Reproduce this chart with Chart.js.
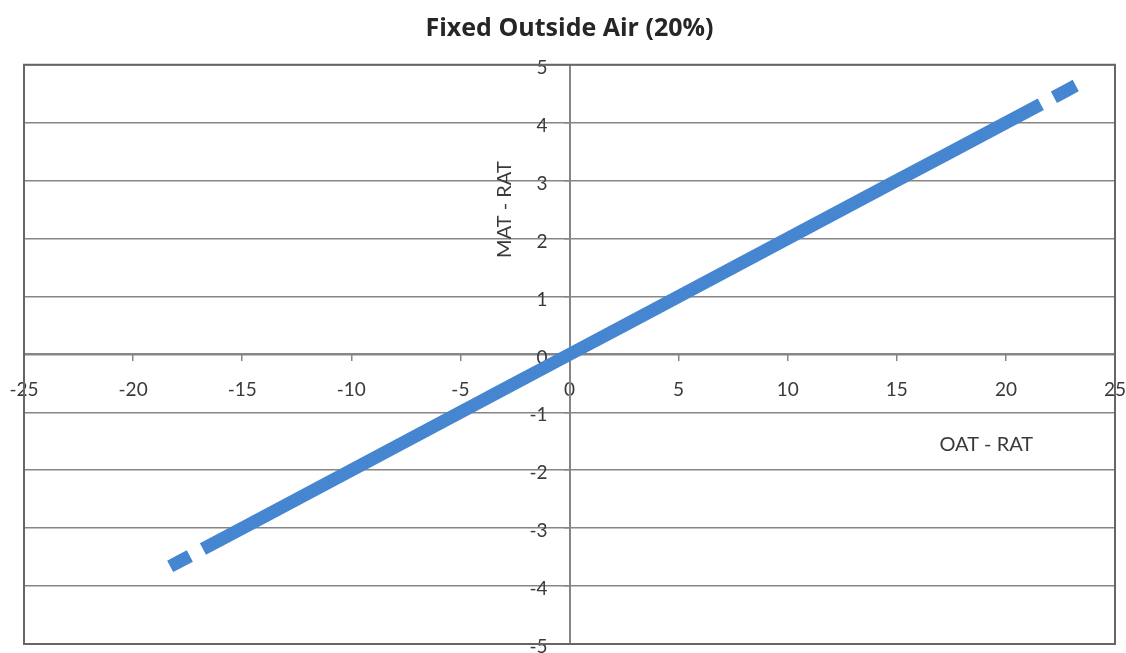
<!DOCTYPE html>
<html lang="en">
<head>
    <meta charset="UTF-8">
    <title>Fixed Outside Air (20%)</title>
    <script src="https://cdn.jsdelivr.net/npm/chart.js"></script>
    <style>
        * {
            margin: 0;
            padding: 0;
            box-sizing: border-box;
        }

        body {
            background: #ffffff;
            width: 1126px;
            height: 653px;
            overflow: hidden;
        }

        .chart-box {
            position: relative;
            width: 1126px;
            height: 653px;
        }
    </style>
</head>
<body>
    <div class="chart-box">
        <canvas id="oaChart" width="1126" height="653"></canvas>
    </div>
    <script>
        // Values (null = gap in the trace)
        const oatRat = [-18.3, -17.9, -17.4, -17.1, -16.8, -15, -12.5, -10, -7.5, -5, -2.5, 0, 2.5, 5, 7.5, 10, 12.5, 15, 17.5, 20, 21.6, 21.9, 22.2, 22.7, 23.2];
        const matRat = [-3.66, -3.58, -3.48, null, -3.36, -3.0, -2.5, -2.0, -1.5, -1.0, -0.5, 0, 0.5, 1.0, 1.5, 2.0, 2.5, 3.0, 3.5, 4.0, 4.32, null, 4.44, 4.54, 4.64];
        const xTicks = [-25, -20, -15, -10, -5, 0, 5, 10, 15, 20, 25];
        const yTicks = [-5, -4, -3, -2, -1, 0, 1, 2, 3, 4, 5];

        const gridColor = '#868686';
        const textColor = '#3a3a3a';
        const fontFamily = 'Lato, "Open Sans", sans-serif';

        const points = oatRat.map((x, i) => ({ x: x, y: matRat[i] }));

        // no extra room for edge labels, the axes sit inside the plot
        function noEdgePadding(scale) {
            scale.paddingLeft = 0;
            scale.paddingRight = 0;
            scale.paddingTop = 0;
            scale.paddingBottom = 0;
        }

        // Frame, y label offset and the two axis titles
        const framePlugin = {
            id: 'frame',
            beforeDraw(chart) {
                // y labels sit a bit left of the axis line like in Excel
                const items = chart.scales.y.getLabelItems();
                items.forEach(item => {
                    item.options.translation[0] -= 22;
                    item.options.translation[1] += 3;
                });
            },
            beforeDatasetsDraw(chart) {
                const { ctx, chartArea } = chart;
                ctx.save();
                ctx.strokeStyle = '#666666';
                ctx.lineWidth = 2;
                ctx.strokeRect(chartArea.left, chartArea.top, chartArea.right - chartArea.left, chartArea.bottom - chartArea.top);
                ctx.restore();
            },
            afterDraw(chart) {
                const { ctx, scales } = chart;
                ctx.save();
                ctx.fillStyle = textColor;
                ctx.font = '20px ' + fontFamily;
                ctx.textAlign = 'center';
                ctx.textBaseline = 'middle';
                ctx.fillText('OAT - RAT', scales.x.getPixelForValue(19.1), scales.y.getPixelForValue(-1.55));
                ctx.translate(scales.x.getPixelForValue(-2.96), scales.y.getPixelForValue(2.5));
                ctx.rotate(-Math.PI / 2);
                ctx.fillText('MAT - RAT', 0, 0);
                ctx.restore();
            }
        };

        new Chart(document.getElementById('oaChart'), {
            type: 'scatter',
            data: {
                datasets: [{
                    label: 'MAT - RAT',
                    data: points,
                    showLine: true,
                    spanGaps: false,
                    borderColor: '#4686d1',
                    backgroundColor: '#4686d1',
                    borderWidth: 13,
                    borderCapStyle: 'butt',
                    pointRadius: 0,
                    pointHoverRadius: 0
                }]
            },
            options: {
                responsive: false,
                animation: false,
                devicePixelRatio: 1,
                layout: {
                    padding: { left: 24, right: 11, bottom: 9, top: 0 }
                },
                plugins: {
                    legend: { display: false },
                    tooltip: { enabled: false },
                    title: {
                        display: true,
                        text: 'Fixed Outside Air (20%)',
                        color: '#262626',
                        font: { family: '"Open Sans", sans-serif', size: 25, weight: 'bold', lineHeight: 1.15 },
                        padding: { top: 14, bottom: 22 }
                    }
                },
                scales: {
                    x: {
                        type: 'linear',
                        position: { y: 0 },
                        min: -25,
                        max: 25,
                        afterBuildTicks(scale) {
                            scale.ticks = xTicks.map(v => ({ value: v }));
                        },
                        afterFit: noEdgePadding,
                        grid: {
                            drawOnChartArea: false,
                            drawTicks: true,
                            tickLength: 6,
                            color: gridColor,
                            lineWidth: 1.5
                        },
                        border: { color: gridColor, width: 2 },
                        ticks: {
                            autoSkip: false,
                            maxRotation: 0,
                            padding: 18,
                            color: textColor,
                            font: { family: fontFamily, size: 19 }
                        }
                    },
                    y: {
                        type: 'linear',
                        position: { x: 0 },
                        min: -5,
                        max: 5,
                        afterBuildTicks(scale) {
                            scale.ticks = yTicks.map(v => ({ value: v }));
                        },
                        afterFit: noEdgePadding,
                        grid: {
                            drawOnChartArea: true,
                            drawTicks: true,
                            tickLength: 5,
                            color: gridColor,
                            lineWidth: 1.5
                        },
                        border: { color: gridColor, width: 2 },
                        ticks: {
                            autoSkip: false,
                            padding: 17,
                            color: textColor,
                            font: { family: fontFamily, size: 19 }
                        }
                    }
                }
            },
            plugins: [framePlugin]
        });
    </script>
</body>
</html>
